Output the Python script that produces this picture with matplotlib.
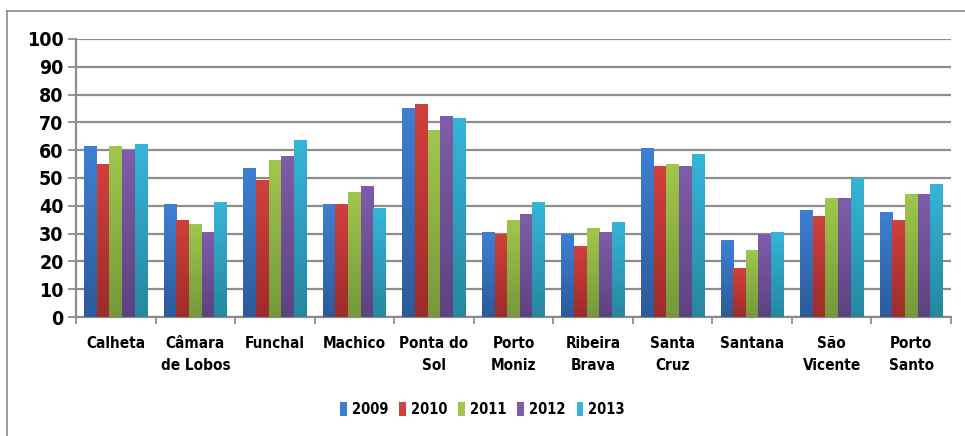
import numpy as np
import matplotlib
matplotlib.use("Agg")
import matplotlib.pyplot as plt
from matplotlib.colors import LinearSegmentedColormap
from matplotlib.lines import Line2D
from matplotlib.patches import Rectangle

plt.rcParams['font.family'] = ['DejaVu Sans']
plt.rcParams['font.stretch'] = 'condensed'
plt.rcParams['font.weight'] = 'bold'

# ---------------- data ----------------
municipios = ["Calheta", "Câmara\nde Lobos", "Funchal", "Machico", "Ponta do\nSol",
              "Porto\nMoniz", "Ribeira\nBrava", "Santa\nCruz", "Santana", "São\nVicente",
              "Porto\nSanto"]
anos = ["2009", "2010", "2011", "2012", "2013"]
v2009 = [61.5, 40.6, 53.6, 40.6, 75.2, 30.6, 29.9, 60.8, 27.7, 38.5, 37.8]
v2010 = [55.0, 34.9, 49.3, 40.6, 76.6, 29.9, 25.5, 54.3, 17.6, 36.3, 34.9]
v2011 = [61.5, 33.5, 56.5, 45.0, 67.3, 34.9, 32.0, 55.0, 24.1, 42.8, 44.2]
v2012 = [60.1, 30.6, 57.9, 47.1, 72.3, 37.1, 30.6, 54.3, 29.9, 42.8, 44.2]
v2013 = [62.2, 41.4, 63.7, 39.2, 71.6, 41.4, 34.2, 58.6, 30.6, 50.0, 47.8]
series = [v2009, v2010, v2011, v2012, v2013]

# (top colour, bottom colour) per year
cores = [("#3e80d3", "#2d5a98"), ("#d1403d", "#9c2c2a"), ("#a0c74d", "#76983a"),
         ("#7f5daa", "#5c437f"), ("#36b5d8", "#26879f")]

fig = plt.figure(figsize=(9.65, 4.36), dpi=100)
ax = fig.add_axes([0.0788, 0.2729, 0.9067, 0.6377])

x = np.arange(len(municipios))
w = 0.159
grad = np.linspace(1, 0, 256).reshape(-1, 1)
for i, vals in enumerate(series):
    top, bot = cores[i]
    cmap = LinearSegmentedColormap.from_list("g%d" % i, [bot, top])
    offs = (i - 2) * w
    bars = ax.bar(x + offs, vals, w, color=top, label=anos[i], zorder=3, linewidth=0)
    # vertical gradient like the original spreadsheet chart
    for b in bars:
        bx, by = b.get_x(), b.get_y()
        bw, bh = b.get_width(), b.get_height()
        im = ax.imshow(grad, cmap=cmap, aspect='auto', extent=[bx, bx + bw, by, by + bh],
                       zorder=3.1, interpolation='bicubic')
        im.set_clip_path(b)

ax.set_xlim(-0.5, len(municipios) - 0.5)
ax.set_ylim(0, 100)
ax.set_yticks(range(0, 101, 10))
ax.yaxis.grid(True, color="#8c8c8c", linewidth=1.6, zorder=0)
ax.set_axisbelow(True)

ax.set_xticks(np.arange(-0.5, len(municipios)))
ax.set_xticklabels([])
ax.set_xticks(x, minor=True)
ax.set_xticklabels(municipios, minor=True, fontsize=11, fontweight='bold', linespacing=1.55)
ax.tick_params(axis='x', which='minor', length=0, pad=14)
ax.tick_params(axis='x', which='major', length=5, width=1.3, color="#8c8c8c", direction='out')
ax.tick_params(axis='y', length=6, width=1.3, color="#8c8c8c", labelsize=14, pad=3)
for lab in ax.get_yticklabels():
    lab.set_fontweight('bold')

for side in ['top', 'right']:
    ax.spines[side].set_visible(False)
for side in ['left', 'bottom']:
    ax.spines[side].set_color("#8c8c8c")
    ax.spines[side].set_linewidth(1.6)

handles = [Rectangle((0, 0), 1, 1, facecolor=c[0]) for c in cores]
leg = fig.legend(handles, anos, loc='center', bbox_to_anchor=(0.5, 0.06), ncol=5,
                 frameon=False, handlelength=0.45, handleheight=1.1,
                 handletextpad=0.35, columnspacing=0.75, prop={'weight': 'bold', 'size': 10.5})

# outer chart frame
fig.add_artist(Line2D([7 / 965, 7 / 965], [0, 1 - 11 / 436], color="#8c8c8c", lw=1.2,
                      transform=fig.transFigure))
fig.add_artist(Line2D([7 / 965, 1], [1 - 11 / 436, 1 - 11 / 436], color="#8c8c8c", lw=1.2,
                      transform=fig.transFigure))

fig.savefig("out.png", dpi=100)
